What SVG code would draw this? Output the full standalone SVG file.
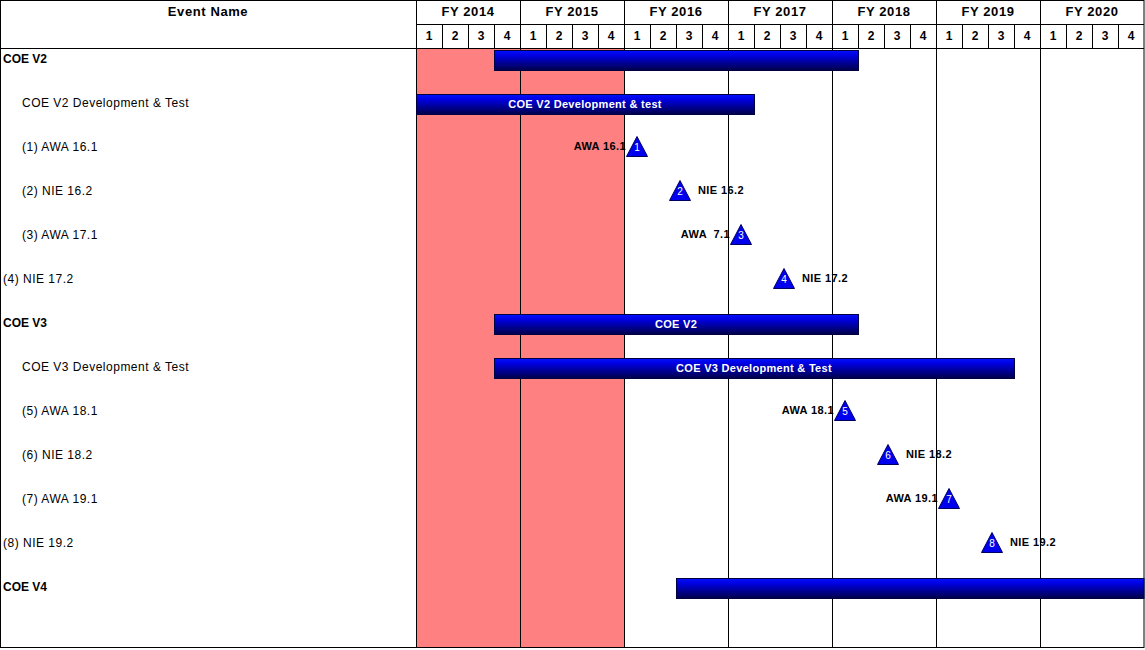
<svg xmlns="http://www.w3.org/2000/svg" width="1145" height="650" viewBox="0 0 1145 650">
<style>
text{font-family:"Liberation Sans",Arial,sans-serif;fill:#000}
.hdr{font-size:13px;font-weight:bold;letter-spacing:0.6px;text-anchor:middle}
.q{font-size:12px;font-weight:bold;text-anchor:middle}
.grp{font-size:12px;font-weight:bold}
.lbl{font-size:12px;letter-spacing:0.5px}
.bt{font-size:11px;font-weight:bold;fill:#fff;text-anchor:middle;letter-spacing:0.3px}
.ml{font-size:11px;font-weight:bold;letter-spacing:0.4px}
.num{font-size:10px;fill:#fff;text-anchor:middle}
.ln{stroke:#000;stroke-width:1;fill:none}
.bar{fill:url(#bg);stroke:#000040;stroke-width:1}
.tri{fill:#0000EE;stroke:#000060;stroke-width:1}
</style>
<defs>
<linearGradient id="bg" x1="0" y1="0" x2="0" y2="1">
<stop offset="0" stop-color="#0010FF"/>
<stop offset="0.25" stop-color="#0000E0"/>
<stop offset="1" stop-color="#000048"/>
</linearGradient>
</defs>
<rect x="0" y="0" width="1145" height="650" fill="#fff"/>
<rect id="highlight" x="416" y="48" width="208" height="600" fill="#FF8080"/>
<g id="grid" class="ln">
<rect x="0.5" y="0.5" width="1143.5" height="647"/>
<line x1="416.5" y1="0" x2="416.5" y2="648"/>
<line x1="0" y1="48.5" x2="1144" y2="48.5"/>
<line x1="416" y1="24.5" x2="1144" y2="24.5"/>
<line x1="520.5" y1="0" x2="520.5" y2="648"/>
<line x1="624.5" y1="0" x2="624.5" y2="648"/>
<line x1="728.5" y1="0" x2="728.5" y2="648"/>
<line x1="832.5" y1="0" x2="832.5" y2="648"/>
<line x1="936.5" y1="0" x2="936.5" y2="648"/>
<line x1="1040.5" y1="0" x2="1040.5" y2="648"/>
<path d="M442.5 24V48M468.5 24V48M494.5 24V48M546.5 24V48M572.5 24V48M598.5 24V48M650.5 24V48M676.5 24V48M702.5 24V48M754.5 24V48M780.5 24V48M806.5 24V48M858.5 24V48M884.5 24V48M910.5 24V48M962.5 24V48M988.5 24V48M1014.5 24V48M1066.5 24V48M1092.5 24V48M1118.5 24V48"/>
</g>
<g id="header">
<text class="hdr" x="208" y="16">Event Name</text>
<text class="hdr" x="468" y="16">FY 2014</text>
<text class="hdr" x="572" y="16">FY 2015</text>
<text class="hdr" x="676" y="16">FY 2016</text>
<text class="hdr" x="780" y="16">FY 2017</text>
<text class="hdr" x="884" y="16">FY 2018</text>
<text class="hdr" x="988" y="16">FY 2019</text>
<text class="hdr" x="1092" y="16">FY 2020</text>
<g class="q">
<text x="429" y="40">1</text><text x="455" y="40">2</text><text x="481" y="40">3</text><text x="507" y="40">4</text>
<text x="533" y="40">1</text><text x="559" y="40">2</text><text x="585" y="40">3</text><text x="611" y="40">4</text>
<text x="637" y="40">1</text><text x="663" y="40">2</text><text x="689" y="40">3</text><text x="715" y="40">4</text>
<text x="741" y="40">1</text><text x="767" y="40">2</text><text x="793" y="40">3</text><text x="819" y="40">4</text>
<text x="845" y="40">1</text><text x="871" y="40">2</text><text x="897" y="40">3</text><text x="923" y="40">4</text>
<text x="949" y="40">1</text><text x="975" y="40">2</text><text x="1001" y="40">3</text><text x="1027" y="40">4</text>
<text x="1053" y="40">1</text><text x="1079" y="40">2</text><text x="1105" y="40">3</text><text x="1131" y="40">4</text>
</g>
</g>
<g id="connectors"></g>
<g id="row-coe-v2">
<text class="grp" x="3" y="62.5">COE V2</text>
<rect class="bar" x="494.5" y="50.5" width="364" height="20"/>
</g>
<g id="row-coe-v2-dev">
<text class="lbl" x="22" y="106.5">COE V2 Development &amp; Test</text>
<rect class="bar" x="416.5" y="94.5" width="338" height="20"/>
<text class="bt" x="585" y="107.5">COE V2 Development &amp; test</text>
</g>
<g id="row-awa-16-1">
<text class="lbl" x="22" y="150.5">(1) AWA 16.1</text>
<polygon class="tri" points="637,136.5 626.5,156.5 647.5,156.5"/>
<text class="num" x="637" y="151">1</text>
<text class="ml" x="626" y="150.3" text-anchor="end">AWA 16.1</text>
</g>
<g id="row-nie-16-2">
<text class="lbl" x="22" y="194.5">(2) NIE 16.2</text>
<polygon class="tri" points="680,180.5 669.5,200.5 690.5,200.5"/>
<text class="num" x="680" y="195">2</text>
<text class="ml" x="698" y="194.3">NIE 16.2</text>
</g>
<g id="row-awa-17-1">
<text class="lbl" x="22" y="238.5">(3) AWA 17.1</text>
<polygon class="tri" points="741,224.5 730.5,244.5 751.5,244.5"/>
<text class="num" x="741" y="239">3</text>
<text class="ml" x="730" y="238.3" text-anchor="end" xml:space="preserve" style="white-space:pre">AWA  7.1</text>
</g>
<g id="row-nie-17-2">
<text class="lbl" x="3" y="282.5">(4) NIE 17.2</text>
<polygon class="tri" points="784,268.5 773.5,288.5 794.5,288.5"/>
<text class="num" x="784" y="283">4</text>
<text class="ml" x="802" y="282.3">NIE 17.2</text>
</g>
<g id="row-coe-v3">
<text class="grp" x="3" y="326.5">COE V3</text>
<rect class="bar" x="494.5" y="314.5" width="364" height="20"/>
<text class="bt" x="676" y="327.5">COE V2</text>
</g>
<g id="row-coe-v3-dev">
<text class="lbl" x="22" y="370.5">COE V3 Development &amp; Test</text>
<rect class="bar" x="494.5" y="358.5" width="520" height="20"/>
<text class="bt" x="754" y="371.5">COE V3 Development &amp; Test</text>
</g>
<g id="row-awa-18-1">
<text class="lbl" x="22" y="414.5">(5) AWA 18.1</text>
<polygon class="tri" points="845,400.5 834.5,420.5 855.5,420.5"/>
<text class="num" x="845" y="415">5</text>
<text class="ml" x="834" y="414.3" text-anchor="end">AWA 18.1</text>
</g>
<g id="row-nie-18-2">
<text class="lbl" x="22" y="458.5">(6) NIE 18.2</text>
<polygon class="tri" points="888,444.5 877.5,464.5 898.5,464.5"/>
<text class="num" x="888" y="459">6</text>
<text class="ml" x="906" y="458.3">NIE 18.2</text>
</g>
<g id="row-awa-19-1">
<text class="lbl" x="22" y="502.5">(7) AWA 19.1</text>
<polygon class="tri" points="949,488.5 938.5,508.5 959.5,508.5"/>
<text class="num" x="949" y="503">7</text>
<text class="ml" x="938" y="502.3" text-anchor="end">AWA 19.1</text>
</g>
<g id="row-nie-19-2">
<text class="lbl" x="3" y="546.5">(8) NIE 19.2</text>
<polygon class="tri" points="992,532.5 981.5,552.5 1002.5,552.5"/>
<text class="num" x="992" y="547">8</text>
<text class="ml" x="1010" y="546.3">NIE 19.2</text>
</g>
<g id="row-coe-v4">
<text class="grp" x="3" y="590.5">COE V4</text>
<rect class="bar" x="676.5" y="578.5" width="467.5" height="20"/>
</g>
</svg>
